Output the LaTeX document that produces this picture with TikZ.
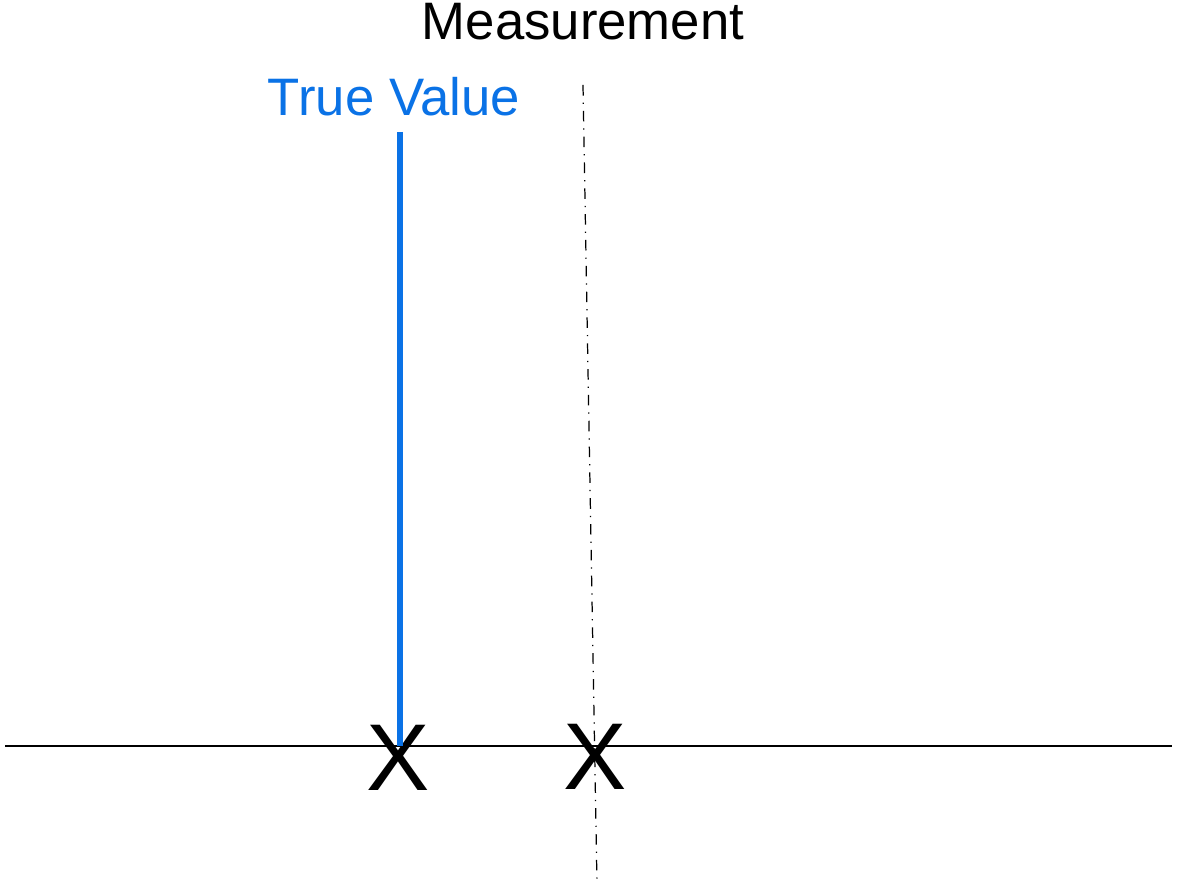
\documentclass[tikz,border=0pt]{standalone}
\usepackage{fontspec}
\setmainfont{Liberation Sans}
\usetikzlibrary{positioning,calc}
\definecolor{TrueBlue}{HTML}{0A72E6}

\begin{document}
\begin{tikzpicture}[
  label/.style={inner sep=0pt,font=\fontsize{15}{18}\selectfont},
  cross/.style={inner sep=0pt,font=\fontsize{27}{30}\selectfont},
  axis/.style={line width=0.6pt,draw=black},
  truth/.style={line width=1.7pt,draw=TrueBlue},
  meanline/.style={line width=0.35pt,draw=black,dash dot}
]
\useasboundingbox (0,0) rectangle (11.78,8.87);
% axis
\coordinate (axl) at (0.05,1.41);
\coordinate (axr) at (11.72,1.41);
\draw[axis] (axl) -- (axr);
% marks
\node[cross] (xtrue) at (3.98,1.29) {X};
\node[cross] (xmeas) at (5.95,1.30) {X};
% labels
\node[label,text=TrueBlue] (lbltrue) at (3.94,7.90) {True Value};
\node[label] (lblmeas) at (5.83,8.65) {Measurement};
% lines
\coordinate (ttop) at (4.00,7.55);
\coordinate (tbase) at (4.00,1.41);
\draw[truth] (ttop) -- (tbase);
\coordinate (mtop) at (5.83,8.02);
\coordinate (mbot) at (5.97,0.02);
\draw[meanline] (mtop) -- (mbot);
\end{tikzpicture}
\end{document}
